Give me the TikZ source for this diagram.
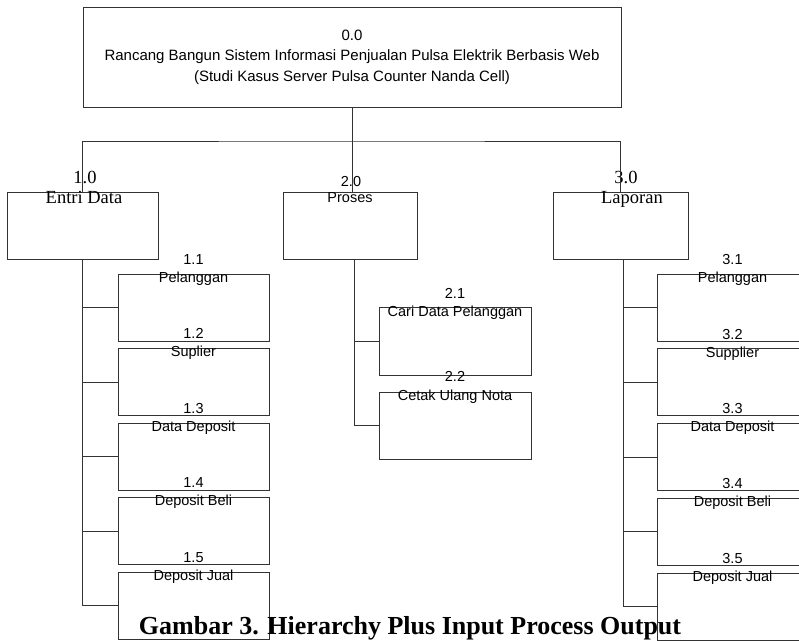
\documentclass[tikz,border=0pt]{standalone}
\usepackage{fontspec}
\setmainfont{Liberation Serif}
\setsansfont{Liberation Sans}
\usepackage{tikz}
\usetikzlibrary{positioning}

\begin{document}
\begin{tikzpicture}[x=1pt,y=-1pt,
  line width=0.9pt, draw=black!80,
  box/.style={draw,rectangle,inner sep=0pt,minimum width=151pt,minimum height=67pt},
  sftxt/.style={anchor=base,inner sep=0pt,font=\sffamily\fontsize{14.5}{17}\selectfont},
  rmtxt/.style={anchor=base,inner sep=0pt,font=\rmfamily\fontsize{18.5}{21}\selectfont},
  capt/.style={anchor=base,inner sep=0pt,font=\rmfamily\bfseries\fontsize{26}{30}\selectfont}]

\useasboundingbox (0,0) rectangle (799,640);

% top level
\node[box,minimum width=538pt,minimum height=100pt,align=center,
  font=\sffamily\fontsize{15}{20.5}\selectfont] (root) at (352,57)
  {0.0\\Rancang Bangun Sistem Informasi Penjualan Pulsa Elektrik Berbasis Web\\(Studi Kasus Server Pulsa Counter Nanda Cell)};

% second level
\node[box] (entri) at (82.5,225.5) {};
\node[box,minimum width=134pt] (proses) at (350,225.5) {};
\node[box,minimum width=135pt] (laporan) at (620.5,225.5) {};

\node[rmtxt] (entrin) at (85,183) {1.0};
\node[rmtxt] (entrit) at (84,203) {Entri Data};
\node[sftxt] (prosesn) at (351,186) {2.0};
\node[sftxt] (prosest) at (350,202) {Proses};
\node[rmtxt] (laporann) at (626,183) {3.0};
\node[rmtxt] (laporant) at (632,203) {Laporan};

% children of entri data
\node[box] (e1) at (193.5,307.5) {};
\node[box] (e2) at (193.5,382) {};
\node[box] (e3) at (193.5,456.5) {};
\node[box] (e4) at (193.5,531) {};
\node[box] (e5) at (193.5,605.5) {};

\node[sftxt] (e1n) at (193.5,264) {1.1};
\node[sftxt] (e1t) at (193.5,282) {Pelanggan};
\node[sftxt] (e2n) at (193.5,338.5) {1.2};
\node[sftxt] (e2t) at (193.5,356.5) {Suplier};
\node[sftxt] (e3n) at (193.5,413) {1.3};
\node[sftxt] (e3t) at (193.5,431) {Data Deposit};
\node[sftxt] (e4n) at (193.5,487.5) {1.4};
\node[sftxt] (e4t) at (193.5,505.5) {Deposit Beli};
\node[sftxt] (e5n) at (193.5,562) {1.5};
\node[sftxt] (e5t) at (193.5,580) {Deposit Jual};

% children of proses
\node[box,minimum width=152pt,minimum height=68pt] (p1) at (455,341) {};
\node[box,minimum width=152pt] (p2) at (455,425.5) {};

\node[sftxt] (p1n) at (455,298) {2.1};
\node[sftxt] (p1t) at (455,316) {Cari Data Pelanggan};
\node[sftxt] (p2n) at (455,381) {2.2};
\node[sftxt] (p2t) at (455,400) {Cetak Ulang Nota};

% children of laporan
\node[box] (l1) at (732.5,307.5) {};
\node[box] (l2) at (732.5,382.25) {};
\node[box] (l3) at (732.5,457) {};
\node[box] (l4) at (732.5,531.75) {};
\node[box] (l5) at (732.5,606.5) {};

\node[sftxt] (l1n) at (732.5,264) {3.1};
\node[sftxt] (l1t) at (732.5,282) {Pelanggan};
\node[sftxt] (l2n) at (732.5,339) {3.2};
\node[sftxt] (l2t) at (732.5,357) {Supplier};
\node[sftxt] (l3n) at (732.5,413.5) {3.3};
\node[sftxt] (l3t) at (732.5,431.5) {Data Deposit};
\node[sftxt] (l4n) at (732.5,488.25) {3.4};
\node[sftxt] (l4t) at (732.5,506.25) {Deposit Beli};
\node[sftxt] (l5n) at (732.5,563) {3.5};
\node[sftxt] (l5t) at (732.5,581) {Deposit Jual};

% connectors
\coordinate (bus) at (352,141);
\draw (root.south) -- (bus);
\draw (entri.north) |- (bus) -| (laporan.north);
\draw (bus) -- (bus |- proses.north);

\draw (entri.south) |- (e5.west);
\draw (entri.south |- e1.west) -- (e1.west);
\draw (entri.south |- e2.west) -- (e2.west);
\draw (entri.south |- e3.west) -- (e3.west);
\draw (entri.south |- e4.west) -- (e4.west);

\draw ([xshift=4pt]proses.south) |- (p2.west);
\draw ([xshift=4pt]proses.south |- p1.west) -- (p1.west);

\draw ([xshift=3pt]laporan.south) |- (l5.west);
\draw ([xshift=3pt]laporan.south |- l1.west) -- (l1.west);
\draw ([xshift=3pt]laporan.south |- l2.west) -- (l2.west);
\draw ([xshift=3pt]laporan.south |- l3.west) -- (l3.west);
\draw ([xshift=3pt]laporan.south |- l4.west) -- (l4.west);

\node[capt] (cap) at (410,634) {Gambar 3. Hierarchy Plus Input Process Output};

\end{tikzpicture}
\end{document}
